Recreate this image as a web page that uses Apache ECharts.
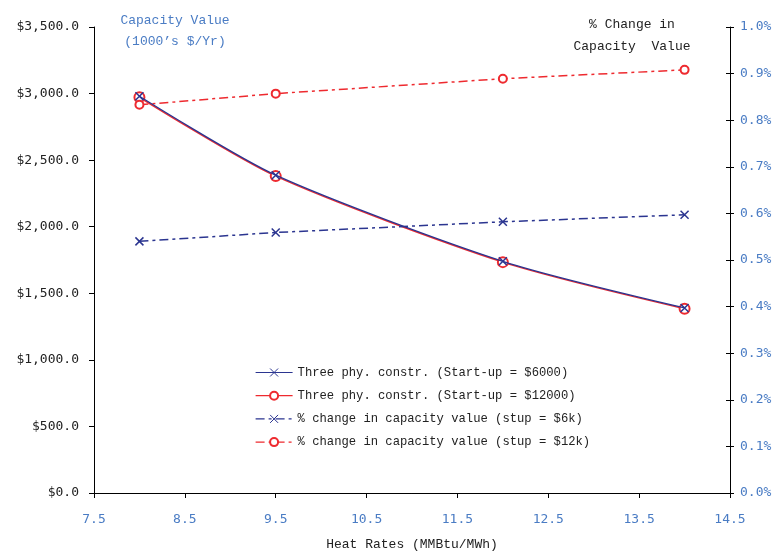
<!DOCTYPE html>
<html><head><meta charset="utf-8">
<script src="https://cdn.jsdelivr.net/npm/echarts@6/dist/echarts.min.js"></script>
<style>html,body{margin:0;padding:0;background:#fff}#c{width:782px;height:556px}</style>
</head><body><div id="c"></div>
<script>
const heatRates = [8, 9.5, 12, 14];
const cap6000 = [2980, 2387, 1740, 1390];
const cap12000 = [2972, 2380, 1734, 1384];
const pct6k = [0.540, 0.559, 0.582, 0.597];
const pct12k = [0.833, 0.857, 0.889, 0.908];
const seriesNames = [
  'Three phy. constr. (Start-up = $6000)',
  'Three phy. constr. (Start-up = $12000)',
  '% change in capacity value (stup = $6k)',
  '% change in capacity value (stup = $12k)'
];
const FONT = 'Liberation Mono';
const TICKFONT = 'DejaVu Sans Mono';
const BLUE = '#2b3590', RED = '#ee2a2f', LBL = '#4a7cc4';
const pair = (xs, ys) => xs.map((x, i) => [x, ys[i]]);
const chart = echarts.init(document.getElementById('c'));
chart.setOption({
  animation: false,
  textStyle: {fontFamily: FONT},
  grid: {left: 94, right: 52, top: 27, bottom: 62},
  title: [
    {text: 'Capacity Value\n(1000\u2019s $/Yr)', left: 170, top: 5, textAlign: 'center',
     textStyle: {color: LBL, fontSize: 13, fontWeight: 'normal', fontFamily: FONT, lineHeight: 21}},
    {text: '% Change in\nCapacity  Value', left: 627, top: 9, textAlign: 'center',
     textStyle: {color: '#222', fontSize: 13, fontWeight: 'normal', fontFamily: FONT, lineHeight: 22}}
  ],
  legend: {
    orient: 'vertical', left: 250, top: 361, itemGap: 10.7, itemWidth: 37, itemHeight: 10,
    textStyle: {fontSize: 12.2, color: '#222', fontFamily: FONT},
    data: seriesNames.map(n => ({name: n, itemStyle: {borderWidth: 1}, lineStyle: {width: 1.2}}))
  },
  xAxis: {
    type: 'value', min: 7.5, max: 14.5, interval: 1,
    name: 'Heat Rates (MMBtu/MWh)', nameLocation: 'middle', nameGap: 45,
    nameTextStyle: {color: '#222', fontSize: 13, fontFamily: FONT},
    axisLine: {lineStyle: {color: '#000'}},
    axisTick: {show: true, length: 5, lineStyle: {color: '#000'}},
    axisLabel: {color: LBL, fontSize: 13, margin: 20, fontFamily: TICKFONT, formatter: v => v.toFixed(1)},
    splitLine: {show: false}
  },
  yAxis: [
    {type: 'value', min: 0, max: 3500, interval: 500,
     axisLine: {show: true, lineStyle: {color: '#000'}},
     axisTick: {show: true, length: 5, lineStyle: {color: '#000'}},
     axisLabel: {color: '#222', fontSize: 13, margin: 15, fontFamily: TICKFONT,
       formatter: v => '$' + v.toLocaleString('en-US', {minimumFractionDigits: 1, maximumFractionDigits: 1})},
     splitLine: {show: false}},
    {type: 'value', min: 0, max: 1.0, interval: 0.1, position: 'right',
     axisLine: {show: true, lineStyle: {color: '#000'}},
     axisTick: {show: true, length: 4, lineStyle: {color: '#000'}},
     axisLabel: {color: LBL, fontSize: 13, margin: 10, fontFamily: TICKFONT, formatter: v => v.toFixed(1) + '%'},
     splitLine: {show: false}},
    {type: 'value', min: 0, max: 1.0, interval: 0.1, position: 'right',
     axisLine: {show: false},
     axisTick: {show: true, inside: true, length: 4, lineStyle: {color: '#000'}},
     axisLabel: {show: false},
     splitLine: {show: false}}
  ],
  series: [
    {name: seriesNames[1], type: 'line', yAxisIndex: 0, smooth: 0.25, data: pair(heatRates, cap12000),
     symbol: 'emptyCircle', symbolSize: 10,
     lineStyle: {color: RED, width: 1.5}, itemStyle: {color: RED, borderColor: RED, borderWidth: 1.2}, z: 3},
    {name: seriesNames[0], type: 'line', yAxisIndex: 0, smooth: 0.25, data: pair(heatRates, cap6000),
     symbol: 'path://M0,0 L10,10 M10,0 L0,10', symbolSize: 8,
     lineStyle: {color: BLUE, width: 1.3}, itemStyle: {color: 'none', borderColor: BLUE, borderWidth: 1.5}, z: 4},
    {name: seriesNames[2], type: 'line', yAxisIndex: 1, data: pair(heatRates, pct6k),
     symbol: 'path://M0,0 L10,10 M10,0 L0,10', symbolSize: 8,
     lineStyle: {color: BLUE, width: 1.5, type: [9, 4, 3, 4]}, itemStyle: {color: 'none', borderColor: BLUE, borderWidth: 1.5}},
    {name: seriesNames[3], type: 'line', yAxisIndex: 1, data: pair(heatRates, pct12k),
     symbol: 'emptyCircle', symbolSize: 8,
     lineStyle: {color: RED, width: 1.5, type: [9, 4, 3, 4]}, itemStyle: {color: RED, borderColor: RED, borderWidth: 1.2}}
  ]
});
</script></body></html>
